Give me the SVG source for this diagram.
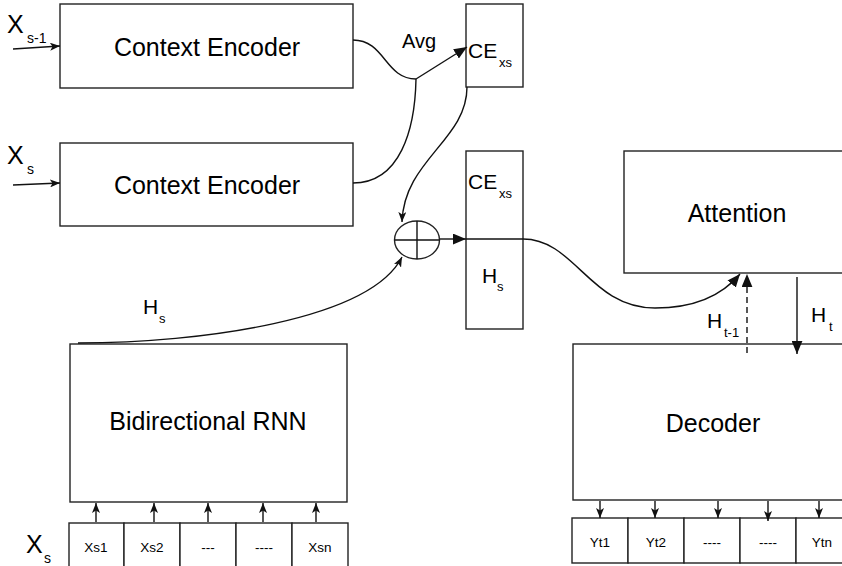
<svg xmlns="http://www.w3.org/2000/svg" width="842" height="566" viewBox="0 0 842 566">
<style>
.box{fill:#fff;stroke:#222;stroke-width:1.4}
.ln{fill:none;stroke:#111;stroke-width:1.4}
.big{font-family:"Liberation Sans",Arial,sans-serif;font-size:25px;fill:#000}
.mid{font-family:"Liberation Sans",Arial,sans-serif;font-size:21px;fill:#000}
.sub{font-family:"Liberation Sans",Arial,sans-serif;font-size:13px;fill:#000}
.sm{font-family:"Liberation Sans",Arial,sans-serif;font-size:13.5px;fill:#000;text-anchor:middle}
.c{text-anchor:middle}
</style>
<defs>
<marker id="a" viewBox="0 0 10 8" refX="10" refY="4" markerWidth="10" markerHeight="8" markerUnits="userSpaceOnUse" orient="auto">
<path d="M0,0 L10,4 L0,8 L2.5,4 z" fill="#111"/>
</marker>
<marker id="af" viewBox="0 0 12 10" refX="12" refY="5" markerWidth="13" markerHeight="11" markerUnits="userSpaceOnUse" orient="auto">
<path d="M0,0 L12,5 L0,10 z" fill="#111"/>
</marker>
</defs>

<g id="ce1"><rect class="box" x="60" y="4" width="293" height="84"/><text class="big c" x="207" y="56">Context Encoder</text></g>
<g id="ce2"><rect class="box" x="60" y="143" width="293" height="83"/><text class="big c" x="207" y="194">Context Encoder</text></g>
<g id="cexs"><rect class="box" x="466" y="4" width="57" height="83"/><text class="mid" x="468" y="58">CE</text><text class="sub" x="499" y="67">xs</text></g>
<g id="concat"><rect class="box" x="466" y="151" width="57" height="178"/><line class="ln" x1="466" y1="239" x2="523" y2="239"/><text class="mid" x="468" y="189">CE</text><text class="sub" x="499" y="198">xs</text><text class="mid" x="482" y="283">H</text><text class="sub" x="497" y="291">s</text></g>
<g id="plus"><ellipse class="box" cx="417" cy="240" rx="22.5" ry="19"/><line class="ln" x1="394.5" y1="240" x2="439.5" y2="240"/><line class="ln" x1="417" y1="221" x2="417" y2="259"/></g>
<g id="attention"><rect class="box" x="624" y="151" width="230" height="122"/><text class="big c" x="737" y="222">Attention</text></g>
<g id="decoder"><rect class="box" x="573" y="344" width="281" height="156"/><text class="big c" x="713" y="432">Decoder</text></g>
<g id="rnn"><rect class="box" x="70" y="344" width="277" height="158"/><text class="big c" x="208" y="430">Bidirectional RNN</text></g>
<g id="xs-cells">
<rect class="box" x="69" y="523" width="55" height="50"/><rect class="box" x="124" y="523" width="56" height="50"/><rect class="box" x="180" y="523" width="56" height="50"/><rect class="box" x="236" y="523" width="56" height="50"/><rect class="box" x="292" y="523" width="56" height="50"/>
<text class="sm" x="96" y="552">Xs1</text><text class="sm" x="152" y="552">Xs2</text><text class="sm" x="208" y="552">---</text><text class="sm" x="264" y="552">----</text><text class="sm" x="320" y="552">Xsn</text>
</g>
<g id="yt-cells">
<rect class="box" x="572" y="518" width="56" height="45"/><rect class="box" x="628" y="518" width="56" height="45"/><rect class="box" x="684" y="518" width="56" height="45"/><rect class="box" x="740" y="518" width="56" height="45"/><rect class="box" x="796" y="518" width="56" height="45"/>
<text class="sm" x="600" y="547">Yt1</text><text class="sm" x="656" y="547">Yt2</text><text class="sm" x="712" y="547">----</text><text class="sm" x="768" y="547">----</text><text class="sm" x="822" y="547">Ytn</text>
</g>
<g id="labels">
<text class="big" x="7" y="33">X</text><text class="sub" x="27" y="43" style="font-size:14px">s-1</text>
<text class="big" x="7" y="164">X</text><text class="sub" x="27" y="174" style="font-size:14px">s</text>
<text class="big" x="26" y="553">X</text><text class="sub" x="44" y="563" style="font-size:14px">s</text>
<text class="mid" x="402" y="48" style="font-size:20px">Avg</text>
<text class="mid" x="143" y="314">H</text><text class="sub" x="159" y="323">s</text>
<text class="mid" x="707" y="328">H</text><text class="sub" x="724" y="337">t-1</text>
<text class="mid" x="811" y="322">H</text><text class="sub" x="829" y="331">t</text>
</g>
<g id="connectors">
<line class="ln" x1="13" y1="49" x2="60" y2="46" marker-end="url(#a)"/>
<line class="ln" x1="13" y1="185" x2="60" y2="183" marker-end="url(#a)"/>
<path class="ln" d="M353,40 C385,40 385,79 416,79"/>
<line class="ln" x1="416" y1="79" x2="467" y2="47" marker-end="url(#af)"/>
<path class="ln" d="M353,183 C400,183 415,130 416,79"/>
<path class="ln" d="M467,87 C467,140 404,160 402,222" marker-end="url(#a)"/>
<path class="ln" d="M78,343 C200,343 370,320 402,257" marker-end="url(#a)"/>
<line class="ln" x1="440" y1="239" x2="466" y2="239" marker-end="url(#af)"/>
<path class="ln" d="M523,239 C575,239 590,308 655,308 C700,308 725,292 740,274" marker-end="url(#af)"/>
<line class="ln" x1="747" y1="353" x2="747" y2="274" stroke-dasharray="6,4" marker-end="url(#af)"/>
<line class="ln" x1="797" y1="277" x2="797" y2="354" marker-end="url(#af)"/>
<line class="ln" x1="96" y1="522" x2="96" y2="503" marker-end="url(#a)"/>
<line class="ln" x1="154" y1="522" x2="154" y2="503" marker-end="url(#a)"/>
<line class="ln" x1="208" y1="522" x2="208" y2="503" marker-end="url(#a)"/>
<line class="ln" x1="263" y1="522" x2="263" y2="503" marker-end="url(#a)"/>
<line class="ln" x1="316" y1="522" x2="316" y2="503" marker-end="url(#a)"/>
<line class="ln" x1="600" y1="501" x2="600" y2="518" marker-end="url(#a)"/>
<line class="ln" x1="655" y1="501" x2="655" y2="518" marker-end="url(#a)"/>
<line class="ln" x1="718" y1="501" x2="718" y2="518" marker-end="url(#a)"/>
<line class="ln" x1="768" y1="501" x2="768" y2="521" marker-end="url(#a)"/>
<line class="ln" x1="819" y1="501" x2="819" y2="518" marker-end="url(#a)"/>
</g>
</svg>
